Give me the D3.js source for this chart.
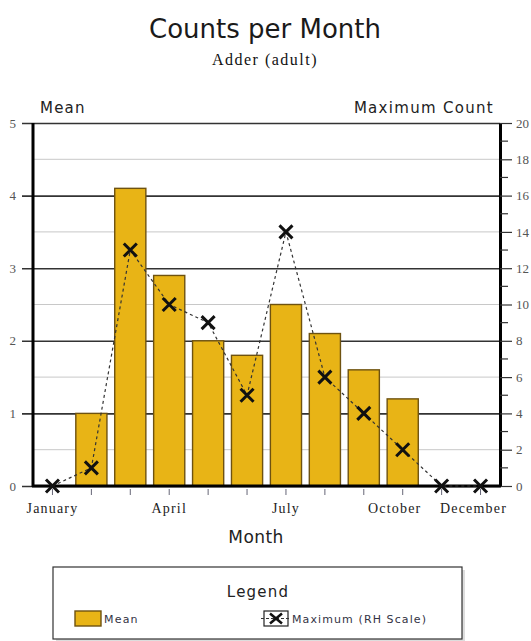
<!DOCTYPE html>
<html>
<head>
<meta charset="utf-8">
<script src="https://cdn.jsdelivr.net/npm/d3@7"></script>
<style>
  html, body { margin: 0; padding: 0; background: #fff; }
  svg { display: block; }
</style>
</head>
<body>
<svg id="chart" width="531" height="641"></svg>
<script>
const months = ["January","February","March","April","May","June","July","August","September","October","November","December"];
const shownMonthLabels = ["January","April","July","October","December"];
const meanValues = [0, 1.0, 4.1, 2.9, 2.0, 1.8, 2.5, 2.1, 1.6, 1.2, 0, 0];
const maxValues = [0, 1, 13, 10, 9, 5, 14, 6, 4, 2, 0, 0];
const leftTicks = [0, 1, 2, 3, 4, 5];
const leftMinorTicks = [0.5, 1.5, 2.5, 3.5, 4.5];
const rightTicks = [0, 2, 4, 6, 8, 10, 12, 14, 16, 18, 20];
const rightMinorTicks = [1, 3, 5, 7, 9, 11, 13, 15, 17, 19];

const svg = d3.select("#chart");
const L = 33, R = 500, T = 123, B = 486;
const sans = "'DejaVu Sans', 'Open Sans', sans-serif";
const serif = "'Liberation Serif', 'DejaVu Serif', serif";

const x = d3.scaleBand().domain(months).range([L, R]).paddingInner(0.2).paddingOuter(0.1);
const y = d3.scaleLinear().domain([0, 5]).range([B, T]);
const yR = d3.scaleLinear().domain([0, 20]).range([B, T]);

// Titles
svg.append("text").attr("x", 265).attr("y", 38).attr("text-anchor", "middle")
  .attr("font-family", sans).attr("font-size", 26).attr("fill", "#1a1a1a").text("Counts per Month");
svg.append("text").attr("x", 265).attr("y", 65).attr("text-anchor", "middle")
  .attr("font-family", serif).attr("font-size", 16).attr("letter-spacing", 1.5).attr("fill", "#111").text("Adder (adult)");
svg.append("text").attr("x", 40).attr("y", 113)
  .attr("font-family", sans).attr("font-size", 15).attr("letter-spacing", 1.2).attr("fill", "#222").text("Mean");
svg.append("text").attr("x", 494).attr("y", 113).attr("text-anchor", "end")
  .attr("font-family", sans).attr("font-size", 15).attr("letter-spacing", 1.3).attr("fill", "#222").text("Maximum Count");

// Minor gridlines
svg.append("g").selectAll("line").data(leftMinorTicks).join("line")
  .attr("x1", L).attr("x2", R).attr("y1", d => y(d)).attr("y2", d => y(d))
  .attr("stroke", "#c8c8c8").attr("stroke-width", 1);

// Left axis with major gridlines
const leftAxis = svg.append("g").attr("transform", `translate(${L},0)`)
  .call(d3.axisLeft(y).tickValues(leftTicks).tickSize(-(R - L)).tickSizeOuter(0).tickPadding(17).tickFormat(d3.format("d")));
leftAxis.select(".domain").remove();
leftAxis.selectAll(".tick line").attr("x1", -11).attr("stroke", "#333").attr("stroke-width", 1.6);
leftAxis.selectAll(".tick text").attr("font-family", serif).attr("font-size", 13).attr("fill", "#555");

// Bars
svg.append("g").selectAll("rect").data(months.map((m, i) => ({m, v: meanValues[i]})).filter(d => d.v > 0)).join("rect")
  .attr("x", d => x(d.m)).attr("width", x.bandwidth())
  .attr("y", d => y(d.v)).attr("height", d => y(0) - y(d.v))
  .attr("fill", "#E8B416").attr("stroke", "#6e5210").attr("stroke-width", 1.4);

// Right axis
const rightAxis = svg.append("g").attr("transform", `translate(${R},0)`)
  .call(d3.axisRight(yR).tickValues(rightTicks).tickSize(12).tickSizeOuter(0).tickPadding(4).tickFormat(d3.format("d")));
rightAxis.select(".domain").attr("stroke", "#000").attr("stroke-width", 3);
rightAxis.selectAll(".tick line").attr("stroke", "#333").attr("stroke-width", 1.2);
rightAxis.selectAll(".tick text").attr("font-family", serif).attr("font-size", 13).attr("fill", "#555");
svg.append("g").selectAll("line").data(rightMinorTicks).join("line")
  .attr("x1", R).attr("x2", R + 8).attr("y1", d => yR(d)).attr("y2", d => yR(d))
  .attr("stroke", "#333").attr("stroke-width", 1.2);

// Left axis line
svg.append("line").attr("x1", L).attr("x2", L).attr("y1", T).attr("y2", B + 1)
  .attr("stroke", "#000").attr("stroke-width", 3);

// Bottom axis
const labelShift = {October: -8, December: -7};
const bottomAxis = svg.append("g").attr("transform", `translate(0,${B})`)
  .call(d3.axisBottom(x).tickSize(6).tickSizeOuter(0).tickPadding(11)
    .tickFormat(d => shownMonthLabels.includes(d) ? d : ""));
bottomAxis.select(".domain").attr("stroke", "#000").attr("stroke-width", 3).attr("d", `M${L - 1},0H${R + 1}`);
bottomAxis.selectAll(".tick line").attr("stroke", "#667").attr("stroke-width", 1).attr("y1", 3).attr("y2", 9);
bottomAxis.selectAll(".tick text").attr("font-family", serif).attr("font-size", 14).attr("letter-spacing", 1.2)
  .attr("fill", "#222").attr("dx", d => labelShift[d] || 0);

svg.append("text").attr("x", 256).attr("y", 543).attr("text-anchor", "middle")
  .attr("font-family", sans).attr("font-size", 17).attr("letter-spacing", 0.4).attr("fill", "#222").text("Month");

// Max line
const xc = m => x(m) + x.bandwidth() / 2;
const maxData = months.map((m, i) => ({m, v: maxValues[i]}));
svg.append("path").datum(maxData)
  .attr("d", d3.line().x(d => xc(d.m)).y(d => yR(d.v)))
  .attr("fill", "none").attr("stroke", "#333").attr("stroke-width", 1.2).attr("stroke-dasharray", "3,3");

// X markers
const s = 6.5;
svg.append("g").selectAll("path").data(maxData).join("path")
  .attr("d", d => { const cx = xc(d.m), cy = yR(d.v);
    return `M${cx - s},${cy - s}L${cx + s},${cy + s}M${cx - s},${cy + s}L${cx + s},${cy - s}`; })
  .attr("stroke", "#111").attr("stroke-width", 3).attr("fill", "none");

// Legend
const lg = svg.append("g");
lg.append("rect").attr("x", 56).attr("y", 570).attr("width", 409).attr("height", 72)
  .attr("fill", "#ddd");
lg.append("rect").attr("x", 53).attr("y", 567).attr("width", 409).attr("height", 72)
  .attr("fill", "#fff").attr("stroke", "#333").attr("stroke-width", 1.2);
lg.append("text").attr("x", 258).attr("y", 597).attr("text-anchor", "middle")
  .attr("font-family", sans).attr("font-size", 15).attr("letter-spacing", 1.2).attr("fill", "#222").text("Legend");
lg.append("rect").attr("x", 75).attr("y", 611).attr("width", 26).attr("height", 15)
  .attr("fill", "#E8B416").attr("stroke", "#6e5210").attr("stroke-width", 1.4);
lg.append("text").attr("x", 104).attr("y", 623)
  .attr("font-family", sans).attr("font-size", 11).attr("letter-spacing", 1.2).attr("fill", "#334").text("Mean");
lg.append("rect").attr("x", 264).attr("y", 611).attr("width", 24).attr("height", 15)
  .attr("fill", "#fff").attr("stroke", "#222").attr("stroke-width", 1.2);
lg.append("line").attr("x1", 261).attr("x2", 291).attr("y1", 618.5).attr("y2", 618.5)
  .attr("stroke", "#333").attr("stroke-width", 1).attr("stroke-dasharray", "3,2");
lg.append("path").attr("d", "M270,613.5L282,623.5M270,623.5L282,613.5")
  .attr("stroke", "#111").attr("stroke-width", 2.5);
lg.append("text").attr("x", 292).attr("y", 623)
  .attr("font-family", sans).attr("font-size", 11).attr("letter-spacing", 1.1).attr("fill", "#334").text("Maximum (RH Scale)");
</script>
</body>
</html>
